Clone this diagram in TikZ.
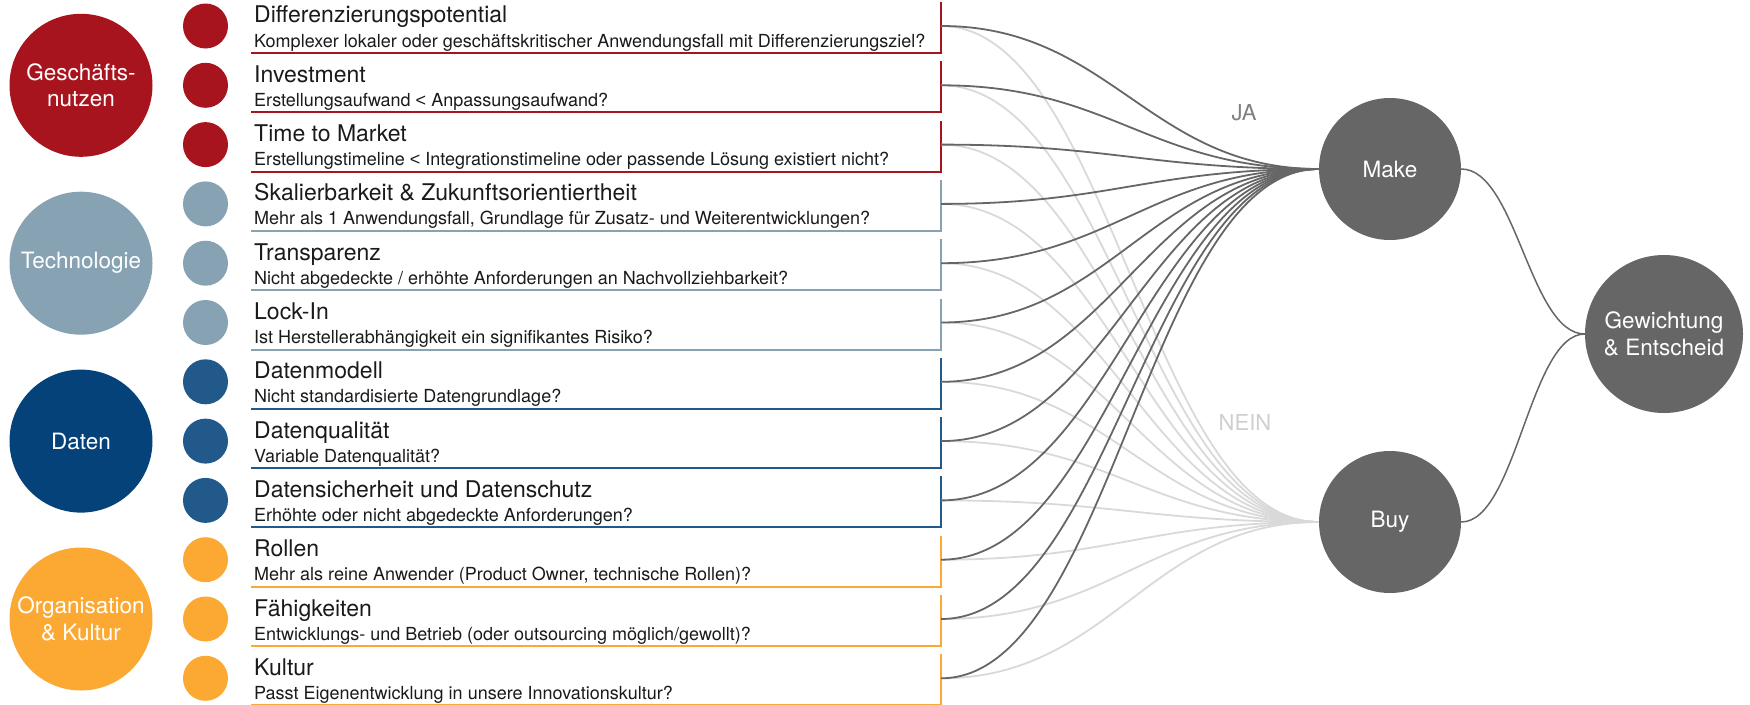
\documentclass[tikz,border=0pt]{standalone}
\usepackage{fontspec}
\setmainfont{TeX Gyre Heros}
\newfontfamily\libsans{Liberation Sans}
\newcommand{\lessthan}{{\libsans <}}
\definecolor{cred}{HTML}{A8141E}
\definecolor{ctech}{HTML}{86A2B3}
\definecolor{cdatbig}{HTML}{044279}
\definecolor{cdat}{HTML}{215A8A}
\definecolor{corg}{HTML}{FBA933}
\definecolor{cgray}{HTML}{666666}
\definecolor{clight}{HTML}{D9D9D9}
\definecolor{ctext}{HTML}{1A1A1A}
\definecolor{cja}{HTML}{808080}
\definecolor{cnein}{HTML}{CFCFCF}
\begin{document}
\begin{tikzpicture}[x=1pt,y=-1pt,
  bigc/.style={circle, minimum size=143pt, inner sep=0pt, text=white, align=center, font=\fontsize{22.5}{26.7}\selectfont},
  smallc/.style={circle, minimum size=45pt, inner sep=0pt},
  hub/.style={circle, fill=cgray, inner sep=0pt, text=white, align=center, font=\fontsize{22.5}{27}\selectfont},
  ttl/.style={anchor=base west, inner sep=0pt, text=ctext, font=\fontsize{23}{25}\selectfont},
  subt/.style={anchor=base west, inner sep=0pt, text=ctext, font=\fontsize{18}{20}\selectfont},
  boxline/.style={line width=2pt},
  yesline/.style={draw=cgray, line width=1.8pt},
  noline/.style={draw=clight, line width=1.8pt},
  hubline/.style={draw=cgray, line width=1.5pt},
  lbl/.style={inner sep=0pt, font=\fontsize{22}{24}\selectfont},
]
\useasboundingbox (0,0) rectangle (1750,704);
\clip (0,0) rectangle (1750,704);

% hubs
\node[hub, minimum size=142pt] (make) at (1390,169) {Make};
\node[hub, minimum size=142pt] (buy) at (1390,522) {Buy};
\node[hub, minimum size=158pt] (gew) at (1664,334) {Gewichtung\\\& Entscheid};

% category circles
\node[bigc, fill=cred] (g1) at (81,85.3) {Geschäfts-\\nutzen};
\node[bigc, fill=ctech] (g2) at (81,263.2) {Technologie};
\node[bigc, fill=cdatbig] (g3) at (81,441.1) {Daten};
\node[bigc, fill=corg] (g4) at (81,619) {Organisation\\\& Kultur};

% rows
\foreach \i/\col/\tt/\st in {
 1/cred/{Differenzierungspotential}/{Komplexer lokaler oder geschäftskritischer Anwendungsfall mit Differenzierungsziel?},
 2/cred/{Investment}/{Erstellungsaufwand \lessthan{} Anpassungsaufwand?},
 3/cred/{Time to Market}/{Erstellungstimeline \lessthan{} Integrationstimeline oder passende Lösung existiert nicht?},
 4/ctech/{Skalierbarkeit \& Zukunftsorientiertheit}/{Mehr als 1 Anwendungsfall, Grundlage für Zusatz- und Weiterentwicklungen?},
 5/ctech/{Transparenz}/{Nicht abgedeckte / erhöhte Anforderungen an Nachvollziehbarkeit?},
 6/ctech/{Lock-In}/{Ist Herstellerabhängigkeit ein signifikantes Risiko?},
 7/cdat/{Datenmodell}/{Nicht standardisierte Datengrundlage?},
 8/cdat/{Datenqualität}/{Variable Datenqualität?},
 9/cdat/{Datensicherheit und Datenschutz}/{Erhöhte oder nicht abgedeckte Anforderungen?},
 10/corg/{Rollen}/{Mehr als reine Anwender (Product Owner, technische Rollen)?},
 11/corg/{Fähigkeiten}/{Entwicklungs- und Betrieb (oder outsourcing möglich/gewollt)?},
 12/corg/{Kultur}/{Passt Eigenentwicklung in unsere Innovationskultur?}}{
  \pgfmathsetmacro\ry{26+59.3*(\i-1)}
  \node[smallc, fill=\col] (c\i) at (205.5,\ry) {};
  \node[ttl] (t\i) at (254,\ry-3) {\tt};
  \node[subt] (s\i) at (254,\ry+21) {\st};
  \coordinate (p\i) at (941,\ry);
  \coordinate (bl\i) at (251,\ry+27);
  \coordinate (br\i) at (941,\ry+27);
  \coordinate (tr\i) at (941,\ry-24);
  \draw[boxline, draw=\col] (bl\i) -- (br\i) -- (tr\i);
}

% NEIN connectors (light)
\foreach \i in {1,...,12}{
  \draw[noline] (p\i) .. controls +(170,0) and +(-170,0) .. (buy.west);
}
% JA connectors (dark)
\foreach \i in {1,...,12}{
  \draw[yesline] (p\i) .. controls +(170,0) and +(-170,0) .. (make.west);
}

\draw[hubline] (make.east) .. controls +(55,0) and +(-55,0) .. (gew.west);
\draw[hubline] (buy.east) .. controls +(55,0) and +(-55,0) .. (gew.west);

\node[lbl, text=cja] (ja) at (1244,113) {JA};
\node[lbl, text=cnein] (nein) at (1245,422) {NEIN};
\end{tikzpicture}
\end{document}
